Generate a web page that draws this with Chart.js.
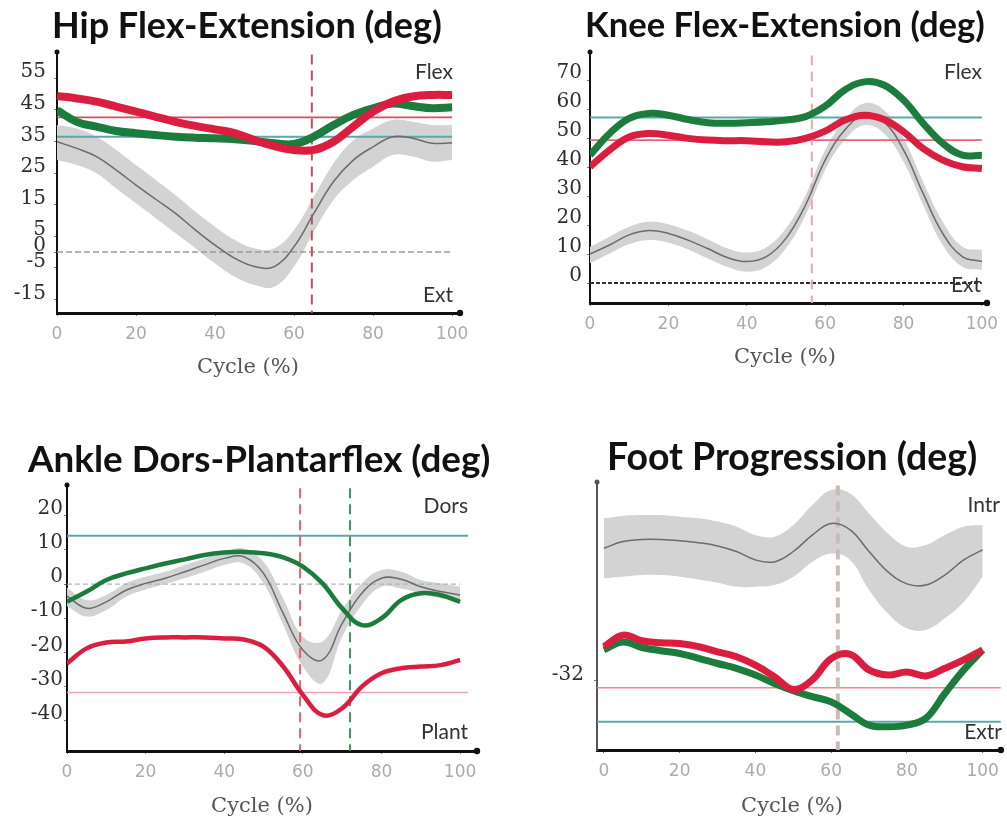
<!DOCTYPE html>
<html>
<head>
<meta charset="utf-8">
<title>Gait kinematics</title>
<script src="https://cdn.jsdelivr.net/npm/chart.js@4.4.1/dist/chart.umd.min.js"></script>
<style>
  html, body { margin: 0; padding: 0; background: #fff; }
  #wrap { position: relative; width: 1007px; height: 823px; overflow: hidden; }
  canvas { position: absolute; left: 0; top: 0; }
</style>
</head>
<body>
<div id="wrap">
  <canvas id="hip" width="1007" height="823"></canvas>
  <canvas id="knee" width="1007" height="823"></canvas>
  <canvas id="ankle" width="1007" height="823"></canvas>
  <canvas id="foot" width="1007" height="823"></canvas>
</div>
<script>
// gait cycle, percent
const cycle = [0, 5, 10, 15, 20, 25, 30, 35, 40, 45, 50, 55, 60, 65, 70, 75, 80, 85, 90, 95, 100];
const xTicks = [0, 20, 40, 60, 80, 100];

// Hip flex-extension (deg)
const hipNormMean = [34.9, 32.8, 30.2, 25.9, 21.2, 16.7, 12.2, 7.0, 2.2, -2.0, -4.6, -4.6, 1.7, 12.2, 22.3, 29.1, 33.3, 36.5, 36.0, 34.4, 34.6];
const hipNormHigh = [40.2, 39.1, 36.5, 32.3, 27.5, 22.8, 18.0, 12.8, 8.0, 3.8, 1.2, 1.2, 7.0, 17.5, 28.1, 35.4, 39.1, 41.8, 41.2, 40.2, 40.2];
const hipNormLow = [29.1, 27.5, 24.9, 20.1, 15.4, 10.7, 5.9, 1.2, -3.6, -7.8, -10.4, -11.0, -4.6, 6.4, 16.5, 22.8, 27.0, 30.7, 30.2, 28.6, 29.1];
const hipLeft = [49.4, 48.6, 47.6, 46.0, 44.4, 42.8, 41.2, 39.9, 38.8, 37.6, 35.4, 33.5, 32.3, 32.3, 34.9, 39.7, 44.4, 47.6, 49.2, 49.7, 49.7];
const hipRight = [44.9, 41.2, 39.7, 38.3, 37.6, 37.0, 36.5, 36.2, 36.0, 35.7, 35.1, 34.4, 34.2, 36.5, 40.2, 43.4, 45.5, 47.0, 46.2, 45.5, 45.8];
const hipTicks = [55, 45, 35, 25, 15, 5, 0, -5, -15];
const hipRefLeft = 42.6, hipRefRight = 36.5;
const hipToeOffLeft = 64.5;

// Knee flex-extension (deg)
const kneeNormMean = [10.0, 13.1, 16.6, 18.1, 17.1, 14.8, 11.9, 8.8, 7.4, 9.1, 15.4, 26.9, 42.4, 52.8, 57.9, 55.6, 45.9, 30.9, 17.1, 9.1, 7.4];
const kneeNormHigh = [12.5, 16.0, 19.4, 21.1, 20.3, 18.0, 15.1, 12.0, 10.5, 12.3, 18.9, 30.3, 45.9, 56.2, 62.0, 59.7, 49.9, 34.9, 21.1, 12.5, 11.4];
const kneeNormLow = [6.8, 10.2, 13.4, 14.8, 13.9, 11.6, 8.5, 5.6, 3.9, 5.6, 12.0, 23.4, 39.0, 49.3, 54.5, 51.6, 41.8, 26.9, 13.1, 5.6, 4.5];
const kneeLeft = [40.1, 45.9, 50.4, 51.6, 51.0, 49.9, 49.3, 49.1, 49.1, 48.7, 48.7, 49.9, 52.4, 56.2, 57.9, 56.4, 52.2, 46.4, 42.4, 40.1, 39.5];
const kneeRight = [44.1, 51.6, 56.8, 58.5, 57.9, 56.4, 55.3, 55.1, 55.3, 55.6, 56.2, 57.4, 61.0, 66.6, 69.4, 68.3, 63.1, 55.1, 48.2, 44.1, 44.1];
const kneeTicks = [70, 60, 50, 40, 30, 20, 10, 0];
const kneeRefLeft = 49.3, kneeRefRight = 57.1;
const kneeToeOffLeft = 56.6;

// Ankle dorsi-plantarflexion (deg)
const ankleNormMean = [-3.5, -7.1, -5.2, -1.8, 0.2, 1.7, 3.6, 5.6, 7.5, 8.0, 3.1, -8.6, -19.3, -22.2, -11.5, -2.7, 1.7, 1.4, -0.8, -2.2, -3.2];
const ankleNormHigh = [-1.0, -4.7, -3.2, 0.2, 2.1, 3.6, 5.6, 7.5, 9.4, 10.4, 6.5, -4.2, -15.4, -16.8, -7.6, 0.2, 4.1, 3.6, 1.2, 0.2, -0.8];
const ankleNormLow = [-6.5, -9.5, -7.6, -3.7, -1.6, 0.0, 1.7, 3.6, 5.6, 6.0, 0.2, -12.0, -24.1, -29.0, -15.4, -6.1, -0.8, -1.3, -2.7, -4.2, -4.7];
const ankleLeft = [-23.2, -18.8, -17.1, -16.8, -15.9, -15.6, -15.6, -15.6, -15.9, -16.2, -18.3, -24.1, -32.4, -38.3, -36.3, -30.0, -26.1, -24.6, -24.1, -23.7, -22.2];
const ankleRight = [-5.2, -2.2, 1.2, 3.1, 4.6, 6.0, 7.2, 8.5, 9.2, 9.4, 9.0, 7.8, 5.1, 0.2, -7.1, -12.0, -10.0, -4.7, -2.7, -3.2, -5.2];
const ankleTicks = [20, 10, 0, -10, -20, -30, -40];
const ankleRefLeft = -31.7, ankleRefRight = 14.1;
const ankleToeOffLeft = 59.3, ankleToeOffRight = 72;

// Foot progression (deg)
const footNormMean = [1.1, 2.8, 3.3, 3.3, 3.0, 2.5, 1.7, 0.3, -1.8, -2.3, 0.3, 4.4, 7.3, 5.7, 0.3, -4.8, -7.8, -8.1, -5.6, -1.8, 0.7];
const footNormHigh = [8.6, 9.2, 9.4, 9.4, 9.0, 8.6, 7.8, 6.5, 4.4, 4.0, 6.9, 11.9, 15.7, 14.8, 9.8, 4.8, 1.5, 1.9, 4.4, 6.5, 6.9];
const footNormLow = [-6.4, -6.0, -5.6, -5.6, -6.0, -6.7, -7.5, -8.5, -8.5, -8.1, -6.0, -2.3, -0.2, -1.8, -9.3, -15.2, -18.9, -19.3, -16.4, -12.3, -6.0];
const footLeft = [-23.5, -20.6, -22.0, -22.5, -22.7, -23.5, -24.8, -26.0, -28.1, -31.0, -34.2, -31.8, -26.5, -25.4, -29.3, -30.6, -29.8, -30.8, -28.9, -26.8, -24.3];
const footRight = [-24.3, -22.3, -23.7, -24.5, -25.2, -26.4, -27.7, -28.9, -30.6, -32.7, -34.5, -36.0, -37.3, -40.2, -43.1, -43.5, -43.1, -41.4, -35.2, -29.3, -24.3];
const footTicks = [-32];
const footRefLeft = -33.75, footRefRight = -42.25;
const footToeOffLeft = 61.5, footToeOffRight = 62;

const RED = "#db1d3f";
const GREEN = "#1c7c3e";
const TEAL = "#58a9a8";
const PAGE_W = 1007, PAGE_H = 823;
const YAXIS_W = 50, XAXIS_H = 40;

function pts(xs, ys) {
  return xs.map((x, i) => ({ x: x, y: ys[i] }));
}

// titles, side words, axis title and the dots at the axis ends
const decor = {
  id: "decor",
  afterDraw(chart, args, o) {
    const ctx = chart.ctx;
    const a = chart.chartArea;
    ctx.save();
    ctx.fillStyle = o.axisColor;
    ctx.beginPath();
    ctx.arc(a.left, a.top, 2.5, 0, Math.PI * 2);
    ctx.fill();
    ctx.fillStyle = "#111";
    ctx.beginPath();
    ctx.arc(a.right, a.bottom, 3.2, 0, Math.PI * 2);
    ctx.fill();

    ctx.fillStyle = "#111";
    ctx.font = "bold 30px Lato";
    const w = ctx.measureText(o.title).width;
    ctx.font = "bold " + (30 * o.titleW / w).toFixed(1) + "px Lato";
    ctx.textAlign = "left";
    ctx.textBaseline = "alphabetic";
    ctx.fillText(o.title, o.titleX, o.titleY);

    ctx.fillStyle = "#333";
    ctx.font = "21px Lato";
    ctx.textAlign = "right";
    ctx.textBaseline = "middle";
    ctx.fillText(o.top[0], o.top[1], o.top[2]);
    ctx.fillText(o.bottom[0], o.bottom[1], o.bottom[2]);

    ctx.fillStyle = "#555";
    ctx.font = "21px 'DejaVu Serif'";
    ctx.textAlign = "center";
    ctx.fillText("Cycle (%)", o.cycleX, o.cycleY);
    ctx.restore();
  }
};

function makePanel(id, p) {
  const datasets = [
    { data: pts(cycle, p.left), borderColor: RED, borderWidth: p.lw, tension: 0.4 },
    { data: pts(cycle, p.right), borderColor: GREEN, borderWidth: p.lw, tension: 0.4 },
    { data: pts(cycle, p.mean), borderColor: "#6b6b6b", borderWidth: 1.5, tension: 0.4 }
  ];
  p.events.forEach(ev => {
    datasets.push({
      data: [{ x: ev.at, y: p.eventTop }, { x: ev.at, y: p.yMin }],
      borderColor: ev.color, borderWidth: 2, borderDash: [10, 6]
    });
  });
  datasets.push(
    { data: [{ x: p.refFrom, y: p.refLeft }, { x: p.refTo, y: p.refLeft }], borderColor: p.refLeftColor, borderWidth: 1.6 },
    { data: [{ x: p.refFrom, y: p.refRight }, { x: p.refTo, y: p.refRight }], borderColor: TEAL, borderWidth: 2 }
  );
  if (p.zero) {
    datasets.push({ data: [{ x: 0, y: 0 }, { x: 100, y: 0 }], borderColor: p.zero.color, borderWidth: p.zero.width, borderDash: p.zero.dash });
  }
  datasets.push(
    { data: pts(cycle, p.high), borderWidth: 0, backgroundColor: "#d3d3d3", fill: "+1", tension: 0.4 },
    { data: pts(cycle, p.low), borderWidth: 0, fill: false, tension: 0.4 }
  );

  new Chart(document.getElementById(id), {
    type: "line",
    data: { datasets: datasets },
    options: {
      responsive: false,
      animation: false,
      events: [],
      elements: { point: { radius: 0 } },
      layout: {
        padding: {
          left: p.area[0] - YAXIS_W,
          right: PAGE_W - p.area[1],
          top: p.area[2],
          bottom: PAGE_H - p.area[3] - XAXIS_H
        }
      },
      plugins: {
        legend: { display: false },
        tooltip: { enabled: false },
        decor: p.decor
      },
      scales: {
        x: {
          type: "linear",
          min: p.xMin,
          max: p.xMax,
          afterBuildTicks: ax => { ax.ticks = xTicks.map(v => ({ value: v })); },
          afterFit: ax => { ax.height = XAXIS_H; },
          grid: { display: true, drawOnChartArea: false, drawTicks: true, tickLength: 3, color: "#777" },
          border: { display: true, color: "#111", width: 3 },
          ticks: {
            autoSkip: false, maxRotation: 0, padding: 8, color: "#ababab",
            font: { family: "DejaVu Sans", size: 17 }
          }
        },
        y: {
          min: p.yMin,
          max: p.yMax,
          afterBuildTicks: ax => { ax.ticks = p.ticks.map(v => ({ value: v })); },
          afterFit: ax => { ax.width = YAXIS_W; },
          grid: { display: true, drawOnChartArea: false, drawTicks: true, tickLength: 3, color: "#777" },
          border: { display: true, color: p.decor.axisColor, width: 2 },
          ticks: {
            autoSkip: false, padding: p.tickPad, labelOffset: p.labelOffset, color: "#2f2f2f",
            font: { family: "DejaVu Serif", size: 20 }
          }
        }
      }
    },
    plugins: [decor]
  });
}

makePanel("hip", {
  mean: hipNormMean, high: hipNormHigh, low: hipNormLow, left: hipLeft, right: hipRight,
  ticks: hipTicks, refLeft: hipRefLeft, refRight: hipRefRight, refLeftColor: "#dc4a60", refFrom: 0, refTo: 100,
  events: [{ at: hipToeOffLeft, color: "#b8555a" }],
  zero: { color: "#9a9a9a", width: 1.5, dash: [6, 3] },
  lw: 8, area: [57, 460, 52, 313], xMin: 0, xMax: 102, yMin: -19.3, yMax: 63.3, eventTop: 62.5,
  tickPad: 8, labelOffset: -6,
  decor: { title: "Hip Flex-Extension (deg)", titleX: 52, titleY: 38, titleW: 390, axisColor: "#111",
    top: ["Flex", 453, 72], bottom: ["Ext", 453, 295], cycleX: 248, cycleY: 368 }
});

makePanel("knee", {
  mean: kneeNormMean, high: kneeNormHigh, low: kneeNormLow, left: kneeLeft, right: kneeRight,
  ticks: kneeTicks, refLeft: kneeRefLeft, refRight: kneeRefRight, refLeftColor: "#e5667a", refFrom: 0, refTo: 100,
  events: [{ at: kneeToeOffLeft, color: "#f2a3ad" }],
  zero: { color: "#333", width: 2, dash: [4, 2] },
  lw: 7, area: [590, 987, 52, 303], xMin: 0, xMax: 101.3, yMin: -6.9, yMax: 79.7, eventTop: 78.5,
  tickPad: 5, labelOffset: -7,
  decor: { title: "Knee Flex-Extension (deg)", titleX: 585, titleY: 37, titleW: 400, axisColor: "#111",
    top: ["Flex", 982, 72], bottom: ["Ext", 981, 285], cycleX: 785, cycleY: 358 }
});

makePanel("ankle", {
  mean: ankleNormMean, high: ankleNormHigh, low: ankleNormLow, left: ankleLeft, right: ankleRight,
  ticks: ankleTicks, refLeft: ankleRefLeft, refRight: ankleRefRight, refLeftColor: "#f0a6b0", refFrom: 0, refTo: 102,
  events: [{ at: ankleToeOffLeft, color: "#e8606f" }, { at: ankleToeOffRight, color: "#3d9a5a" }],
  zero: { color: "#b5b5b5", width: 1.2, dash: [5, 3] },
  lw: 4.5, area: [67, 477, 485, 751], xMin: 0, xMax: 104.3, yMin: -48.8, yMax: 28.95, eventTop: 28,
  tickPad: 1, labelOffset: -7,
  decor: { title: "Ankle Dors-Plantarflex (deg)", titleX: 28, titleY: 472, titleW: 462, axisColor: "#111",
    top: ["Dors", 468, 506], bottom: ["Plant", 468, 732], cycleX: 262, cycleY: 807 }
});

makePanel("foot", {
  mean: footNormMean, high: footNormHigh, low: footNormLow, left: footLeft, right: footRight,
  ticks: footTicks, refLeft: footRefLeft, refRight: footRefRight, refLeftColor: "#ec8a98", refFrom: -1.8, refTo: 104.8,
  events: [{ at: footToeOffLeft, color: "#f0a8b0" }, { at: footToeOffRight, color: "#9ccfb0" }],
  zero: null,
  lw: 7, area: [597, 1005, 482, 750], xMin: -1.83, xMax: 104.8, yMin: -49.325, yMax: 17.675, eventTop: 16.8,
  tickPad: 10, labelOffset: -6,
  decor: { title: "Foot Progression (deg)", titleX: 607, titleY: 470, titleW: 370, axisColor: "#555",
    top: ["Intr", 1000, 505], bottom: ["Extr", 1002, 732], cycleX: 792, cycleY: 807 }
});
</script>
</body>
</html>
